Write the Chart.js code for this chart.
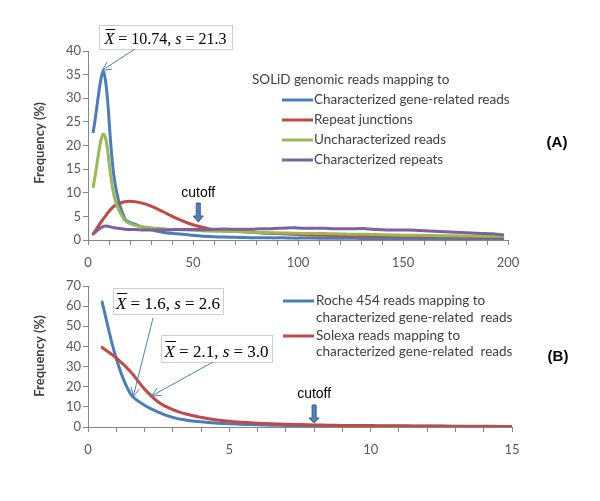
<!DOCTYPE html>
<html lang="en">
<head>
<meta charset="UTF-8">
<title>Read length frequency</title>
<script src="https://cdn.jsdelivr.net/npm/chart.js"></script>
<style>
  body { margin: 0; background: #fff; }
  #wrap { position: relative; width: 600px; height: 501px; }
  canvas { position: absolute; left: 0; top: 0; }
</style>
</head>
<body>
<div id="wrap">
  <canvas id="chartA" width="600" height="501"></canvas>
  <canvas id="chartB" width="600" height="501"></canvas>
</div>
<script>
// ---- panel A : SOLiD reads, 5 bp bins (bin midpoints) ----
var binsA = [2.5, 7.5, 12.5, 17.5, 22.5, 27.5, 32.5, 37.5, 42.5, 47.5,
  52.5, 57.5, 62.5, 67.5, 72.5, 77.5, 82.5, 87.5, 92.5, 97.5,
  102.5, 107.5, 112.5, 117.5, 122.5, 127.5, 132.5, 137.5, 142.5, 147.5,
  152.5, 157.5, 162.5, 167.5, 172.5, 177.5, 182.5, 187.5, 192.5, 197.5];
var geneReads = [22.9, 35.5, 13, 4.5, 3.3, 2.5, 1.9, 1.5, 1.3, 1.1,
  0.9, 0.75, 0.65, 0.6, 0.55, 0.5, 0.5, 0.45, 0.45, 0.4,
  0.4, 0.4, 0.35, 0.35, 0.35, 0.35, 0.3, 0.3, 0.3, 0.3,
  0.3, 0.3, 0.3, 0.25, 0.25, 0.25, 0.25, 0.25, 0.25, 0.25];
var repeatJunctions = [1.3, 4.6, 7.2, 8.1, 8.1, 7.6, 6.7, 5.6, 4.5, 3.6,
  2.9, 2.4, 2.1, 1.9, 1.8, 1.7, 1.5, 1.4, 1.3, 1.2,
  1.1, 1.05, 1.0, 0.95, 0.9, 0.85, 0.85, 0.8, 0.8, 0.75,
  0.75, 0.7, 0.7, 0.7, 0.65, 0.65, 0.6, 0.6, 0.6, 0.6];
var unchReads = [11.3, 22.4, 9.2, 4.2, 3.1, 2.7, 2.5, 2.3, 2.2, 2.1,
  2.0, 1.9, 1.85, 1.8, 1.75, 1.7, 1.6, 1.55, 1.5, 1.45,
  1.4, 1.4, 1.35, 1.3, 1.25, 1.2, 1.2, 1.15, 1.1, 1.05,
  1.0, 1.0, 0.95, 0.9, 0.9, 0.85, 0.85, 0.8, 0.8, 0.8];
var charRepeats = [1.3, 2.9, 2.6, 2.3, 2.2, 2.1, 2.1, 2.1, 2.2, 2.2,
  2.2, 2.2, 2.3, 2.3, 2.3, 2.3, 2.4, 2.4, 2.5, 2.6,
  2.5, 2.5, 2.5, 2.4, 2.4, 2.4, 2.4, 2.2, 2.1, 2.1,
  2.1, 2.0, 1.9, 1.8, 1.7, 1.6, 1.5, 1.4, 1.3, 1.1];
var labelsA = ['Characterized gene-related reads', 'Repeat junctions', 'Uncharacterized reads', 'Characterized repeats'];
var tickLabelsA = [0, 50, 100, 150, 200];

// ---- panel B : Roche 454 vs Solexa ----
var binsB = [0.5, 1, 1.5, 2, 2.5, 3, 3.5, 4, 4.5, 5, 5.5, 6, 6.5, 7, 7.5,
  8, 8.5, 9, 9.5, 10, 10.5, 11, 11.5, 12, 12.5, 13, 13.5, 14, 14.5, 15];
var roche = [62, 34, 16.5, 10.8, 7.3, 4.8, 3.4, 2.6, 2.0, 1.6, 1.3, 1.1, 0.9, 0.8, 0.7,
  0.6, 0.55, 0.5, 0.45, 0.45, 0.4, 0.4, 0.35, 0.35, 0.35, 0.3, 0.3, 0.3, 0.3, 0.3];
var solexa = [39.5, 34.3, 27.5, 18.8, 12.3, 8.6, 6.3, 4.8, 3.6, 2.8, 2.3, 1.9, 1.6, 1.4, 1.2,
  1.0, 0.9, 0.8, 0.75, 0.7, 0.65, 0.6, 0.55, 0.5, 0.45, 0.4, 0.4, 0.35, 0.3, 0.3];
var labelsB = [['Roche 454 reads mapping to', 'characterized gene-related  reads'],
  ['Solexa reads mapping to', 'characterized gene-related  reads']];
var tickLabelsB = [0, 5, 10, 15];

var blue = '#4A7EBB', red = '#BE4B48', green = '#98B954', purple = '#7D60A0';
var axisGray = '#868686';
var sans = 'Lato, "Open Sans", sans-serif';

function pts(xs, ys) {
  return xs.map(function (x, i) { return { x: x, y: ys[i] }; });
}

function yTitle(ctx, x, y) {
  ctx.save();
  ctx.translate(x, y);
  ctx.rotate(-Math.PI / 2);
  ctx.font = 'bold 13px ' + sans;
  ctx.fillStyle = '#404040';
  ctx.textAlign = 'center';
  ctx.textBaseline = 'middle';
  ctx.fillText('Frequency (%)', 0, 0);
  ctx.restore();
}

function statBox(ctx, bx, by, bw, bh, mean, sd, size) {
  ctx.save();
  ctx.fillStyle = '#fff';
  ctx.fillRect(bx, by, bw, bh);
  ctx.strokeStyle = '#cfcfcf';
  ctx.lineWidth = 1;
  ctx.strokeRect(bx + 0.5, by + 0.5, bw, bh);
  var parts = [['X', 'italic '], [' = ' + mean + ', ', ''], ['s', 'italic '], [' = ' + sd, '']];
  var w = 0;
  parts.forEach(function (p) {
    ctx.font = p[1] + size + 'px "Liberation Serif"';
    w += ctx.measureText(p[0]).width;
  });
  var tx = bx + (bw - w) / 2, base = by + bh * 0.8;
  ctx.fillStyle = '#000';
  ctx.textAlign = 'left';
  ctx.textBaseline = 'alphabetic';
  parts.forEach(function (p, i) {
    ctx.font = p[1] + size + 'px "Liberation Serif"';
    var pw = ctx.measureText(p[0]).width;
    ctx.fillText(p[0], tx, base);
    if (i === 0) {
      ctx.beginPath();
      ctx.strokeStyle = '#000';
      ctx.moveTo(tx + 1, Math.round(base - size * 0.92) + 0.5);
      ctx.lineTo(tx + pw + 1, Math.round(base - size * 0.92) + 0.5);
      ctx.stroke();
    }
    tx += pw;
  });
  ctx.restore();
}

function thinArrow(ctx, x1, y1, x2, y2) {
  var a = Math.atan2(y2 - y1, x2 - x1), len = 10, w = 0.45;
  ctx.save();
  ctx.strokeStyle = blue;
  ctx.lineWidth = 1;
  ctx.beginPath();
  ctx.moveTo(x1, y1);
  ctx.lineTo(x2, y2);
  ctx.moveTo(x2 - len * Math.cos(a - w), y2 - len * Math.sin(a - w));
  ctx.lineTo(x2, y2);
  ctx.lineTo(x2 - len * Math.cos(a + w), y2 - len * Math.sin(a + w));
  ctx.stroke();
  ctx.restore();
}

function cutoff(ctx, cx, textY, top, neck, tip) {
  ctx.save();
  ctx.font = '14px "Liberation Sans", Arial, sans-serif';
  ctx.fillStyle = '#000';
  ctx.textAlign = 'center';
  ctx.textBaseline = 'middle';
  ctx.fillText('cutoff', cx, textY);
  ctx.beginPath();
  ctx.moveTo(cx - 2, top);
  ctx.lineTo(cx + 2, top);
  ctx.lineTo(cx + 2, neck);
  ctx.lineTo(cx + 5, neck);
  ctx.lineTo(cx, tip);
  ctx.lineTo(cx - 5, neck);
  ctx.lineTo(cx - 2, neck);
  ctx.closePath();
  ctx.fillStyle = '#4F81BD';
  ctx.fill();
  ctx.strokeStyle = '#385D8A';
  ctx.stroke();
  ctx.restore();
}

function legendLine(ctx, x1, x2, y, color) {
  ctx.save();
  ctx.strokeStyle = color;
  ctx.lineWidth = 3;
  ctx.beginPath();
  ctx.moveTo(x1, y);
  ctx.lineTo(x2, y);
  ctx.stroke();
  ctx.restore();
}

function legendText(ctx, text, x, y) {
  ctx.save();
  ctx.font = '13.5px ' + sans;
  ctx.fillStyle = '#404040';
  ctx.textAlign = 'left';
  ctx.textBaseline = 'middle';
  ctx.fillText(text, x, y);
  ctx.restore();
}

function panelTag(ctx, text, x, y) {
  ctx.save();
  ctx.font = 'bold 15px "Liberation Sans", Arial, sans-serif';
  ctx.fillStyle = '#000';
  ctx.textAlign = 'center';
  ctx.textBaseline = 'middle';
  ctx.fillText(text, x, y);
  ctx.restore();
}

var notesA = {
  id: 'notesA',
  afterDraw: function (chart) {
    var ctx = chart.ctx, sx = chart.scales.x, sy = chart.scales.y;
    yTitle(ctx, 40, 143);
    statBox(ctx, 99, 25, 133, 24, '10.74', '21.3', 16);
    thinArrow(ctx, 135, 49, sx.getPixelForValue(6.7), sy.getPixelForValue(35.9));
    cutoff(ctx, sx.getPixelForValue(52.5), 193, 203, 216, 222);
    legendText(ctx, 'SOLiD genomic reads mapping to', 252, 80);
    var cols = [blue, red, green, purple];
    labelsA.forEach(function (t, i) {
      legendLine(ctx, 282, 313, 100 + i * 20, cols[i]);
      legendText(ctx, t, 314, 100 + i * 20);
    });
    panelTag(ctx, '(A)', 557, 143);
  }
};

var notesB = {
  id: 'notesB',
  afterDraw: function (chart) {
    var ctx = chart.ctx, sx = chart.scales.x, sy = chart.scales.y;
    yTitle(ctx, 40, 356);
    statBox(ctx, 113, 288, 110, 26, '1.6', '2.6', 17);
    statBox(ctx, 161, 335, 111, 27, '2.1', '3.0', 17);
    thinArrow(ctx, 153, 318, sx.getPixelForValue(1.6), sy.getPixelForValue(15.1));
    thinArrow(ctx, 213, 362, sx.getPixelForValue(2.25), sy.getPixelForValue(15.4));
    cutoff(ctx, sx.getPixelForValue(8), 394, 405, 418, 423);
    legendLine(ctx, 283, 314, 301, blue);
    legendText(ctx, labelsB[0][0], 316, 301);
    legendText(ctx, labelsB[0][1], 316, 318);
    legendLine(ctx, 283, 314, 336, red);
    legendText(ctx, labelsB[1][0], 316, 336);
    legendText(ctx, labelsB[1][1], 316, 352);
    panelTag(ctx, '(B)', 558, 357);
  }
};

function axes(xMax, xStep, xLabels, yMax, yStep) {
  var tickFont = { family: sans, size: 13 };
  return {
    x: {
      type: 'linear', min: 0, max: xMax,
      afterFit: function (s) { s.height = 30; },
      ticks: {
        stepSize: xStep, autoSkip: false, maxRotation: 0, padding: 10,
        color: '#595959', font: tickFont,
        callback: function (v) { return xLabels.indexOf(v) >= 0 ? v : ''; }
      },
      grid: { drawOnChartArea: false, tickLength: 5, color: axisGray },
      border: { color: axisGray }
    },
    y: {
      min: 0, max: yMax,
      afterFit: function (s) { s.width = 48; },
      ticks: { stepSize: yStep, padding: 2, color: '#595959', font: tickFont },
      grid: { drawOnChartArea: false, tickLength: 5, color: axisGray },
      border: { color: axisGray }
    }
  };
}

function lineSet(label, data, color, order) {
  return {
    label: label, data: data, borderColor: color, backgroundColor: color,
    borderWidth: 3, pointRadius: 0, tension: 0.35, fill: false, order: order,
    borderCapStyle: 'round', borderJoinStyle: 'round'
  };
}

new Chart(document.getElementById('chartA'), {
  type: 'line',
  data: {
    datasets: [
      lineSet(labelsA[0], pts(binsA, geneReads), blue, 3),
      lineSet(labelsA[1], pts(binsA, repeatJunctions), red, 2),
      lineSet(labelsA[2], pts(binsA, unchReads), green, 1),
      lineSet(labelsA[3], pts(binsA, charRepeats), purple, 0)
    ]
  },
  options: {
    responsive: false, animation: false, events: [],
    layout: { padding: { left: 40, right: 92, top: 51, bottom: 231 } },
    plugins: { legend: { display: false }, tooltip: { enabled: false } },
    scales: axes(200, 10, tickLabelsA, 40, 5)
  },
  plugins: [notesA]
});

new Chart(document.getElementById('chartB'), {
  type: 'line',
  data: {
    datasets: [
      lineSet('Roche 454', pts(binsB, roche), blue, 1),
      lineSet('Solexa', pts(binsB, solexa), red, 0)
    ]
  },
  options: {
    responsive: false, animation: false, events: [],
    layout: { padding: { left: 40, right: 88, top: 286, bottom: 44 } },
    plugins: { legend: { display: false }, tooltip: { enabled: false } },
    scales: axes(15, 1, tickLabelsB, 70, 10)
  },
  plugins: [notesB]
});
</script>
</body>
</html>
